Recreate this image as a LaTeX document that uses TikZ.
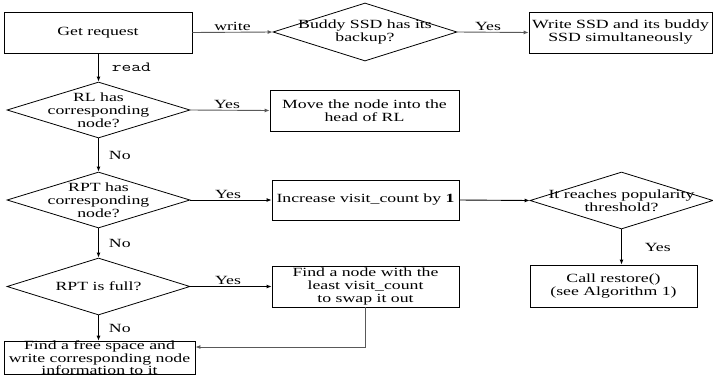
\documentclass[tikz,border=0pt]{standalone}
\usepackage{fontspec}
\usepackage{graphicx}
\setmainfont[FakeStretch=1.42]{Liberation Serif}
\usetikzlibrary{shapes.geometric,arrows.meta}
\begin{document}
\begin{tikzpicture}[x=1pt,y=-1pt,line width=0.8pt,
  font=\fontsize{12.5}{13}\selectfont,
  box/.style={draw,rectangle,inner sep=0pt,align=center},
  dia/.style={draw,diamond,inner sep=0pt},
  txt/.style={align=center,inner sep=0pt},
  arr/.style={-{Latex[length=5pt,width=4pt]},line width=0.9pt},
  garr/.style={arr,draw=black!65},
  lbl/.style={inner sep=1pt}]
\useasboundingbox (0,0) rectangle (713,386);
% boxes
\node[box,minimum width=188pt,minimum height=41pt] (get) at (98,32.5) {Get request};
\node[box,minimum width=183pt,minimum height=41pt] (write) at (620.5,32.5) {Write SSD and its buddy\\SSD simultaneously};
\node[box,minimum width=189pt,minimum height=41pt] (move) at (364.5,110.5) {Move the node into the\\head of RL};
\node[box,minimum width=187pt,minimum height=40pt] (inc) at (365.5,200) {Increase visit\_count by \textbf{1}};
\node[box,minimum width=167pt,minimum height=42pt] (call) at (613.5,286) {Call restore()\\(see Algorithm 1)};
\node[box,minimum width=187pt,minimum height=41pt] (find) at (365.5,286.5) {Find a node with the\\least visit\_count\\to swap it out};
\node[box,minimum width=191pt,minimum height=30pt,font=\fontsize{12.5}{10.5}\selectfont] (free) at (99.5,358) {Find a free space and\\write corresponding node\\information to it};
% diamonds
\node[dia,minimum width=184pt,minimum height=58pt] (buddy) at (365,32) {};
\node[txt] at (buddy) {Buddy SSD has its\\backup?};
\node[dia,minimum width=183pt,minimum height=56pt] (rl) at (98.5,110) {};
\node[txt] at (rl) {RL has\\corresponding\\node?};
\node[dia,minimum width=183pt,minimum height=56pt] (rpt) at (98.5,200) {};
\node[txt] at (rpt) {RPT has\\corresponding\\node?};
\node[dia,minimum width=183pt,minimum height=57pt] (pop) at (621.5,200.5) {};
\node[txt] at (pop) {It reaches popularity\\threshold?};
\node[dia,minimum width=183pt,minimum height=57pt] (full) at (98.5,286.5) {};
\node[txt] at (full) {RPT is full?};
% connectors
\draw[garr] (get.east) -- node[lbl,above] {write} (buddy.west);
\draw[garr] (buddy.east) -- node[lbl,above,xshift=-5pt] {Yes} (write.west);
\draw[arr] (get.south -| rl.north) -- node[lbl,right,xshift=12pt] {\fontsize{14}{14}\ttfamily\scalebox{1.35}[1]{read}} (rl.north);
\draw[garr] (rl.east) -- node[lbl,above,xshift=-3pt] {Yes} (move.west);
\draw[arr] (rl.south) -- node[lbl,right,xshift=9pt] {No} (rpt.north);
\draw[arr] (rpt.east) -- node[lbl,above,xshift=-3pt] {Yes} (inc.west);
\draw[arr] (inc.east) -- (pop.west);
\draw[arr] (pop.south) -- node[lbl,right,xshift=22pt] {Yes} (pop.south |- call.north);
\draw[arr] (rpt.south) -- node[lbl,right,xshift=9pt] {No} (full.north);
\draw[arr] (full.east) -- node[lbl,above,xshift=-3pt] {Yes} (find.west);
\draw[arr] (full.south) -- node[lbl,right,xshift=9pt] {No} (full.south |- free.north);
\coordinate (bend) at (365,347);
\draw[garr] (find.south -| bend) -- (bend) -- (bend -| free.east);
\end{tikzpicture}
\end{document}
